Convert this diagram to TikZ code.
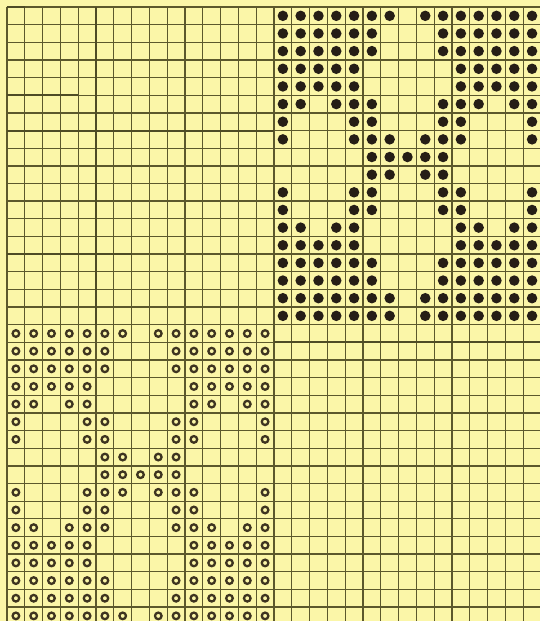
\documentclass[tikz,border=0pt]{standalone}
\usepackage{tikz}
\definecolor{paper}  {RGB}{251,246,168}
\definecolor{gridclr}{RGB}{ 92, 88, 44}
\definecolor{dotclr} {RGB}{ 38, 30, 22}
\definecolor{ringclr}{RGB}{ 62, 52, 32}
\tikzset{
  gridln/.style={draw=gridclr, line width=0.75pt},
  heavyln/.style={draw=gridclr!85!black, line width=1.1pt},
  fulldot/.style={fill=dotclr},
  ringdot/.style={draw=ringclr, line width=1.3pt},
}
\begin{document}
\begin{tikzpicture}[x=0.356cm, y=-0.353cm]
\def\xL{-0.393}\def\xR{29.94}\def\yT{-0.397}\def\yB{34.79}
\useasboundingbox[fill=paper] (\xL,\yT) rectangle (\xR,\yB);
\clip (\xL,\yT) rectangle (\xR,\yB);
% squared paper
\foreach \i in {0,...,30} {\draw[gridln] (\i,0) -- (\i,35);}
\foreach \j in {0,...,35} {\draw[gridln] (0,\j) -- (30,\j);}
\draw[heavyln] (15,19) -- (30,19);
\draw[heavyln] (5,0) -- (5,18);
\draw[heavyln] (0,7) -- (15,7);
\draw[heavyln] (0,5) -- (4,5);
\draw[heavyln] (0,14) -- (7,14);
\draw[heavyln] (0,0) -- (1,0);
% upper right: solid dots
\foreach \r/\cols in {0/{0,1,2,3,4,5,6,8,9,10,11,12,13,14},
  1/{0,1,2,3,4,5,9,10,11,12,13,14}, 2/{0,1,2,3,4,5,9,10,11,12,13,14},
  3/{0,1,2,3,4,10,11,12,13,14}, 4/{0,1,2,3,4,10,11,12,13,14},
  5/{0,1,3,4,5,9,10,11,13,14}, 6/{0,4,5,9,10,14}, 7/{0,4,5,6,8,9,10,14},
  8/{5,6,7,8,9}, 9/{5,6,8,9}, 10/{0,4,5,9,10,14}, 11/{0,4,5,9,10,14},
  12/{0,1,3,4,10,11,13,14}, 13/{0,1,2,3,4,10,11,12,13,14},
  14/{0,1,2,3,4,5,9,10,11,12,13,14}, 15/{0,1,2,3,4,5,9,10,11,12,13,14},
  16/{0,1,2,3,4,5,6,8,9,10,11,12,13,14}, 17/{0,1,2,3,4,5,6,8,9,10,11,12,13,14}}
{\foreach \c in \cols {\fill[fulldot] (15.5+\c, 0.5+\r) circle[radius=0.105cm];}}
% lower left: open rings
\foreach \r/\cols in {0/{0,1,2,3,4,5,6,8,9,10,11,12,13,14},
  1/{0,1,2,3,4,5,9,10,11,12,13,14}, 2/{0,1,2,3,4,5,9,10,11,12,13,14},
  3/{0,1,2,3,4,10,11,12,13,14}, 4/{0,1,3,4,10,11,13,14}, 5/{0,4,5,9,10,14},
  6/{0,4,5,9,10,14}, 7/{5,6,8,9}, 8/{5,6,7,8,9}, 9/{0,4,5,6,8,9,10,14},
  10/{0,4,5,9,10,14}, 11/{0,1,3,4,5,9,10,11,13,14},
  12/{0,1,2,3,4,10,11,12,13,14}, 13/{0,1,2,3,4,10,11,12,13,14},
  14/{0,1,2,3,4,5,9,10,11,12,13,14}, 15/{0,1,2,3,4,5,9,10,11,12,13,14},
  16/{0,1,2,3,4,5,6,8,9,10,11,12,13,14}}
{\foreach \c in \cols {\draw[ringdot] (0.5+\c, 18.5+\r) circle[radius=0.066cm];}}
\end{tikzpicture}
\end{document}
